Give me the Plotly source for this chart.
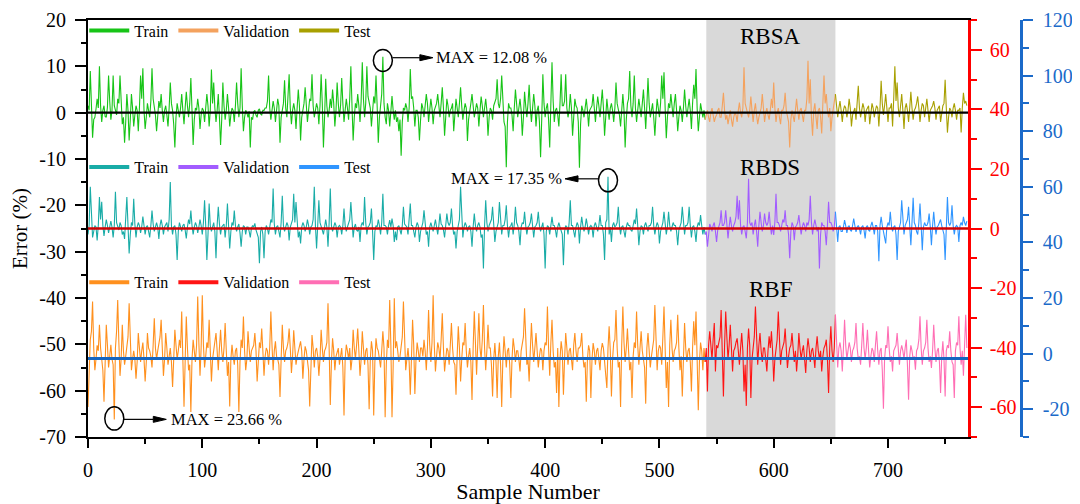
import plotly.graph_objects as go

# ---------------- data (one value per sample) ----------------
train_end = 540     # last training sample
val_end = 654       # last validation sample
x_max = 770

# RBSA error (%), left axis
rbsa_error = [
    1.5, 0.5, 9.0, 2.0, -5.4, -1.5, -1.0, 0.8, 3.0, 1.0, 10.0, 1.5, -2.0, 0.5, 1.5, -0.8, -1.0, 1.2, 8.0, 2.5,
    -1.5, 0.5, 8.0, 1.5, 0.5, -0.5, 3.0, 2.0, 8.0, 1.0, -2.5, -1.0, -6.5, -2.0, 4.0, 0.5, -6.0, -1.5, 4.0, 1.0,
    -3.0, -0.5, 1.5, 0.5, -4.0, 1.0, 8.0, 3.0, 9.6, 0.5, -3.5, -1.0, 2.0, 0.5, -1.0, 2.5, 9.6, 3.0, 1.0, -0.5,
    -4.0, -1.0, 2.5, 1.0, 4.0, 0.5, -2.0, 0.5, 1.5, -0.5, -3.0, 1.0, 6.5, 2.0, 0.5, -2.5, -7.5, -1.0, 2.0, 0.5,
    -1.0, 1.0, 4.0, 0.5, -2.5, 1.0, 4.5, 1.5, -1.0, 2.0, 7.5, 0.5, -7.0, -1.5, 1.0, 0.5, 3.0, 1.0, -3.5, -0.5,
    1.0, 0.5, -2.0, 1.0, 4.0, 1.5, -3.0, 0.5, 9.3, 2.0, 6.5, 1.0, -2.0, 0.5, 4.0, -1.0, -7.0, -1.5, 6.5, 1.5,
    -1.5, 0.5, 4.0, 1.0, -3.0, -0.5, 1.0, 0.5, -2.0, 1.5, 6.5, 2.0, -1.0, 1.0, 9.6, 1.5, -4.0, -1.0, 0.5, 0.0,
    -1.0, 0.3, -7.5, -1.0, -1.5, 0.2, 0.5, -0.5, -1.0, 0.5, 0.8, -0.3, -0.5, 0.5, 0.5, 1.0, 1.0, 2.5, 8.0, 1.0,
    -1.5, 0.5, 2.5, 1.0, -2.0, 0.5, 3.0, 1.5, -6.5, -1.0, 1.0, 2.0, 7.0, 1.0, -1.0, 2.5, 8.3, 1.0, -2.5, 0.5,
    2.0, 0.5, -3.5, 1.0, 5.0, 1.5, -6.0, -1.0, 1.0, 2.0, 5.5, 1.0, -2.0, 0.5, 3.0, 2.5, 8.3, 1.5, -1.0, 0.5,
    2.0, 1.0, -2.5, 1.5, 8.3, 2.0, -7.5, -1.0, 7.3, 1.5, -1.0, 0.5, 3.0, 1.0, 5.0, 2.0, -3.0, 0.5, 6.5, 2.0,
    -1.0, 1.5, 7.5, 2.0, -2.0, 0.5, 3.0, 1.0, -1.5, 3.0, 10.0, 1.5, -6.0, -1.0, 2.0, 1.0, 4.0, 1.5, -2.0, 2.5,
    10.9, 3.0, -1.0, 2.0, 10.0, 3.5, 2.0, 1.0, -3.0, 0.5, 3.5, 2.0, 8.0, 1.5, -6.5, -1.0, 1.0, 4.0, 12.08, 2.0,
    -1.0, -2.5, 2.0, 0.5, -3.0, 1.0, 3.6, 0.5, -1.5, 0.5, -2.0, -1.0, -4.0, -1.5, -9.3, -2.0, 1.0, 0.5, 2.0, 1.0,
    -2.0, 1.0, 9.4, 3.0, 3.5, 1.0, -3.0, 0.5, 0.5, -1.0, -6.0, -1.5, 2.0, 1.0, -1.0, 1.5, 4.0, 2.0, -2.0, 0.5,
    3.0, 1.0, -2.5, 0.5, 1.5, 2.0, 4.0, 1.5, -1.0, 2.0, 5.5, 1.0, -5.0, -1.0, 3.0, 1.5, -1.0, 0.5, 1.0, 2.0,
    -4.0, -0.5, 3.0, 1.0, -1.0, 2.0, 5.5, 1.5, -1.5, 0.5, 2.0, 1.0, -6.1, -1.5, 1.0, 2.0, 4.0, 1.0, -1.0, 0.5,
    2.0, 1.0, -3.0, 0.5, 3.5, 1.5, -1.0, 1.0, 3.0, 0.5, -5.0, -1.0, 1.0, 0.5, -1.5, 1.5, 2.5, 3.0, 7.2, 2.0,
    1.0, 3.0, 8.0, 1.5, -2.0, -3.0, -11.8, -2.0, 2.0, 1.0, 1.0, -0.5, -4.0, 1.0, 5.0, 2.0, -1.0, 1.0, 3.0, 0.5,
    -5.0, -1.0, 4.5, 1.5, -1.0, 2.0, 6.0, 1.0, -2.0, 1.0, 4.0, 1.5, -3.0, 0.5, 1.5, -2.0, -9.6, -1.5, 8.3, 2.0,
    -1.0, 1.0, 2.0, -1.5, -7.5, 2.0, 10.9, 2.5, -2.0, 0.5, 1.0, -0.5, -3.0, 2.0, 8.3, 1.5, 1.5, 2.5, 8.3, 1.0,
    -1.0, 0.5, 4.0, 1.0, -5.0, -1.0, 3.0, 1.5, 1.0, -2.0, -11.9, -2.5, 1.5, 0.5, -1.0, 1.0, 3.0, 0.5, -3.0, 0.5,
    1.0, 1.5, 4.0, 0.5, -2.0, 1.0, 3.5, 1.5, -1.0, 2.0, 5.0, 1.0, -5.0, -1.0, 3.0, 0.5, -1.5, 1.0, 2.0, 0.5,
    -2.0, 1.0, 6.5, 2.0, 1.0, -0.5, -3.0, 1.0, 4.0, 0.5, -7.5, -1.5, 2.0, 3.0, 9.0, 1.5, -1.0, 2.0, 8.0, 1.0,
    -2.0, 0.5, 3.0, 1.0, -1.0, 2.0, 5.0, 1.0, -3.5, 1.5, 7.5, 2.0, -1.0, 0.5, 2.0, -1.0, -5.0, -0.5, 3.0, 1.0,
    -1.0, 2.0, 8.0, 3.0, 8.7, 1.0, -5.5, -1.0, 2.0, 1.0, 4.0, 1.5, -1.0, 2.0, 4.0, 0.5, -4.0, -1.0, 1.5, 0.5,
    -2.0, 1.0, 5.0, 1.5, -1.0, 1.0, 3.0, 0.5, -3.5, 2.0, 6.0, 3.0, 9.4, 1.0, -4.0, -1.0, 2.0, 0.5, -1.0, 0.5,
    -1.5, -0.5, 0.5, -1.0, -2.0, 0.0, 1.0, -0.5, -2.0, -1.0, -0.5, 0.5, 1.0, -1.0, -1.0, 1.5, 4.3, 0.5, -1.5, -0.5,
    -2.5, -1.0, 0.5, -1.5, -3.0, -1.0, 0.0, -0.5, -2.0, 0.5, 2.2, 0.0, -1.0, 1.0, 9.8, 2.0, 1.0, -0.5, -1.0, 0.5,
    3.5, 0.5, -2.0, 0.5, 2.0, -0.5, -2.5, -1.0, 0.5, 1.0, 4.0, 0.5, -2.0, 0.0, 1.0, -0.5, -1.5, 0.5, 3.0, 1.0,
    6.5, 1.0, -2.0, 0.0, 1.0, -1.0, -2.5, 0.5, 0.5, 1.5, 4.3, 0.5, -1.0, -2.0, -7.5, -1.5, 0.5, -0.5, -2.0, 0.5,
    3.0, 0.5, -1.5, 0.5, 1.0, -0.5, -2.0, 0.5, 0.5, 3.0, 11.2, 2.0, 7.2, -1.0, -5.0, 0.5, 2.0, -1.0, -3.5, 0.5,
    1.0, -1.0, -4.5, 2.0, 8.0, 2.0, 4.0, 0.5, -1.0, 1.0, -4.0, -1.0, 1.0, 2.0, 4.0, 0.5, -1.0, 1.0, 2.5, 0.5,
    -2.0, 0.5, 1.5, 1.0, -1.0, 0.5, 3.0, 1.0, -3.0, -0.5, 0.5, 1.0, -1.5, 1.5, 5.8, 1.0, -1.0, 0.5, 2.0, 1.0,
    -2.0, 0.5, 1.0, 1.5, -2.5, 0.0, 2.0, 1.0, -1.0, 0.5, 1.5, 1.0, -3.0, 1.0, 6.9, 2.0, -0.5, 1.5, 4.0, 1.0,
    -2.0, 1.0, 1.0, 2.0, -3.0, 3.0, 10.0, 2.5, 6.5, 1.0, -1.0, 1.5, 4.0, 0.5, -3.5, 1.0, 2.0, 0.5, -2.0, 1.0,
    4.5, 1.0, -1.5, 0.5, 1.0, 2.0, 3.5, 1.0, -2.0, 0.5, 2.0, 1.5, -1.0, 1.0, 3.0, 0.5, -2.0, 0.5, 1.0, 1.5,
    2.5, 1.0, -1.5, 0.5, 1.0, 1.5, -2.0, 0.5, 1.5, 2.0, 7.1, 1.0, -4.3, -1.0, 1.0, 0.5, -1.0, 1.0, 2.0, 0.5,
    -1.5, 0.5, 0.5, 1.0, -4.3, 1.0, 4.3, 2.0, 2.5, 1.5,
]

# RBDS error (%), red right axis
rbds_error = [
    -2.0, 1.0, 14.0, 2.0, -3.0, -1.0, 1.0, 0.5, -4.0, 1.0, 10.6, 3.0, 9.0, 1.0, -2.5, 0.5, 3.0, 1.0, -1.5, 0.5,
    2.5, 0.5, -3.0, 1.0, 12.3, 2.0, 1.0, -0.5, 2.0, 1.0, -2.0, -1.0, -3.5, 2.0, 10.6, 1.0, -8.4, -2.0, 2.0, 1.0,
    10.0, 1.5, -3.0, 0.5, 2.0, 1.0, -1.5, 0.5, 4.0, 1.0, -2.0, 0.5, 1.0, -1.0, -3.0, 1.0, 6.0, 1.5, -1.0, 0.5,
    2.0, 0.5, -3.5, 1.0, 3.0, 1.0, -2.0, 0.5, 1.5, 2.0, -1.0, 3.0, 15.6, 1.0, -2.0, 0.5, 1.0, -2.0, -10.6, -1.0,
    2.0, 0.5, -1.0, 1.0, 1.5, -0.5, -3.3, 0.5, 3.0, 1.5, 6.0, 1.0, -2.0, 0.5, 2.0, 1.0, -1.5, 0.5, 3.0, 1.0,
    -2.0, 2.0, 9.5, 1.0, -10.6, -2.0, 8.4, 1.0, -1.0, 0.5, 2.0, -1.0, -10.0, 1.0, 7.3, 1.5, -2.0, 0.5, 1.0, 1.5,
    -3.0, 1.0, 8.4, 1.5, -6.7, -1.0, 2.0, 1.0, 6.0, 1.0, -1.0, 0.5, 1.5, -1.5, -6.1, -1.0, 1.0, 0.5, -2.0, 0.5,
    0.5, -1.0, -3.0, 0.0, 1.0, 0.5, 1.7, -0.5, -2.0, -3.0, -11.7, -1.0, 0.5, -2.0, -10.0, -1.0, 1.0, 0.0, -2.0, 1.0,
    3.0, 2.0, 13.4, 1.5, -2.0, 0.5, 1.0, -1.0, -3.0, 2.0, 11.0, 1.0, -1.0, 0.5, 2.0, 1.0, -4.0, 0.5, 2.0, 3.0,
    11.7, 2.0, 8.9, 1.0, -3.0, -1.0, -5.0, 0.5, 2.0, 1.0, -1.0, 0.5, 3.0, 1.0, -2.0, 0.5, 1.0, 3.0, 14.0, 1.0,
    -6.7, 1.0, 9.5, 2.0, 1.0, -0.5, -2.0, 1.0, 3.0, 0.5, -6.1, 2.0, 13.4, 1.0, -1.0, 0.5, 2.0, 1.0, -3.0, 0.5,
    1.0, 0.5, -2.0, 1.0, 6.7, 1.0, -1.0, 0.5, 2.0, 3.0, 8.9, 1.0, -3.0, 0.5, 1.5, -0.5, -1.0, 0.5, -4.5, 1.0,
    2.0, 1.0, 10.6, 2.0, -2.0, 0.5, 1.0, 2.0, 6.7, -1.0, -10.6, -1.0, 1.0, 0.5, 3.0, 1.0, -2.0, 2.0, 11.7, 1.0,
    1.0, 0.5, -2.0, 1.0, 2.8, 0.5, 3.3, 1.0, -4.5, -1.0, -3.9, 0.5, 1.0, -0.5, -2.0, 1.0, 7.3, 1.5, 1.0, 0.5,
    -2.0, 2.0, 8.4, 1.0, 1.0, -1.0, -3.0, 0.5, 2.0, 1.0, -4.5, -1.0, 1.0, 2.0, 6.1, 0.5, -2.0, -1.0, -6.1, 0.5,
    2.0, 0.5, -1.0, 1.0, 3.0, 0.5, -2.0, 1.0, 5.0, 1.5, 1.0, -0.5, -3.0, 1.0, 5.0, 2.0, 1.0, 2.0, 6.7, 1.0,
    -2.0, -1.0, -6.7, -1.0, 1.0, 3.0, 14.0, 2.0, -3.0, 0.5, 2.0, 1.0, -1.0, 0.5, 1.0, -1.0, -6.1, 0.5, 5.0, 1.0,
    -1.0, 1.0, 2.0, 0.5, -3.0, -2.0, -13.4, 1.0, 9.5, 2.0, -1.0, 1.0, 2.0, 3.0, 7.3, 1.0, -4.5, -1.0, 1.0, 2.0,
    8.9, 2.0, -2.0, 1.0, 1.0, 3.0, 7.8, 1.0, -3.0, 0.5, 1.0, 2.0, -2.0, 1.5, 7.3, 2.0, 1.0, -1.0, -5.6, 0.5,
    2.0, 1.5, 5.6, 1.0, -2.0, 0.5, 1.0, 2.0, 5.0, 1.0, -3.0, 0.5, 1.0, 2.0, 5.6, 1.0, -1.0, 0.5, 2.0, -2.0,
    -13.4, -1.0, 1.0, 0.5, -2.0, 1.0, 3.9, 1.0, 1.0, -0.5, -3.0, 0.5, 2.0, 0.5, -1.0, -2.0, -12.3, -1.0, 1.0, 0.5,
    -2.0, 2.0, 9.5, 1.0, 1.0, -0.5, -3.0, 0.5, 2.0, 1.0, -5.0, 0.5, 3.9, 1.0, -1.0, 0.5, 3.3, 1.0, -2.0, 0.5,
    1.0, 0.5, -3.0, 1.0, 2.0, 0.5, -1.0, 1.0, 4.5, 1.0, 1.0, -2.0, -10.6, 2.0, 3.0, 17.35, -2.0, 0.5, -4.5, 1.0,
    2.0, 0.5, 1.0, 2.0, 7.3, 1.0, -2.0, 0.5, 1.0, -1.0, -3.0, 0.5, 2.0, 1.0, 1.0, -0.5, -1.0, 1.0, 3.0, 1.5,
    6.7, 1.0, -5.6, -1.0, 1.0, 0.5, -2.0, 1.0, 2.0, 0.5, -1.0, 1.0, 1.0, 2.0, 7.3, 1.0, -2.0, 0.5, 2.0, 1.0,
    -5.0, -1.0, 1.0, 2.0, 5.6, 1.0, -2.0, 0.5, 5.6, 1.0, -1.0, 0.5, 2.0, 1.0, 1.0, -1.0, -5.6, -0.5, 1.0, 2.0,
    7.3, 1.0, -2.0, 1.0, 1.0, 2.0, 7.3, 1.0, -3.0, 0.5, 1.0, -1.0, -4.5, 0.5, 2.0, 1.0, 4.5, 1.0, -2.0, 0.5,
    -2.0, -1.0, -6.1, -1.0, 1.5, 0.5, -1.0, 1.0, 2.0, -1.0, -4.5, -0.5, 1.0, 2.0, 6.1, 1.0, 1.0, 2.0, 6.1, 1.0,
    -3.3, 0.5, 3.9, 1.0, -1.0, 1.0, 2.0, 4.0, 11.0, 3.0, 9.5, 1.0, -2.0, 0.5, 1.0, -1.0, -3.3, 2.0, 16.7, 2.0,
    1.0, 2.0, -2.0, 1.0, 3.0, -1.0, -6.1, 1.0, 5.6, 2.0, -1.0, 1.0, 5.0, 2.0, 1.0, 2.0, 5.6, 1.0, -2.0, 1.0,
    -2.2, 2.0, 11.7, 2.0, 2.0, 1.0, -1.0, 1.0, 3.0, 2.0, 6.1, 1.0, 1.0, -2.0, -10.0, -1.0, 2.0, 1.0, -3.9, 0.5,
    1.0, 2.0, 4.5, 1.0, -2.0, 0.5, 2.0, 1.0, -1.0, 2.0, 1.0, 3.0, 11.0, 2.0, -2.0, 1.0, 3.0, 1.0, -1.0, 0.5,
    -13.4, -2.0, 2.0, 1.0, 1.0, -1.0, -5.6, 1.0, 9.0, 2.0, 2.0, 1.0, -1.0, 0.5, 5.6, 1.0, -4.5, 0.5, 1.0, -1.0,
    -1.0, 0.5, 2.8, 1.0, -1.5, 0.5, 1.0, -0.5, -1.0, 1.0, 3.3, 1.0, -1.1, 0.5, 1.0, 0.0, -2.0, 0.5, 1.0, -0.5,
    -3.3, 0.5, 1.0, -0.5, -1.0, 1.0, 2.2, 0.5, -2.0, 1.0, 1.0, -1.0, -11.0, 1.0, 3.9, 1.0, -1.0, -2.0, -5.0, 0.5,
    2.0, 1.0, 5.6, 1.0, -1.0, 0.5, 1.0, -2.0, -10.6, -1.0, 1.0, 2.0, 9.5, 1.0, -2.0, 1.0, 2.0, 3.0, 7.3, 1.0,
    -5.6, 2.0, 10.3, 2.0, 1.0, -1.0, -2.0, 2.0, 8.4, 1.0, -7.3, 0.5, 2.0, 1.0, 1.0, 2.0, 5.0, 0.5, -5.6, 1.0,
    5.6, 1.0, -2.0, 0.5, 1.0, 2.0, 3.0, 1.0, -1.0, -2.0, -10.6, 1.0, 10.6, 2.0, 1.0, 2.0, 7.8, 1.0, -2.0, 0.5,
    1.0, 0.5, -4.5, 1.0, 2.0, 1.0, 3.9, 2.0, 1.0, 2.5,
]

# RBF error (%), blue right axis
rbf_error = [
    -19.2, -4.0, 5.0, 8.0, 18.7, 2.0, -6.0, -2.0, 3.0, 1.0, 10.4, 2.0, -3.0, -6.0, -17.3, -2.0, 10.4, 3.0, -5.0, -1.0,
    3.2, -2.0, -4.0, -23.66, 2.0, 8.0, 19.3, 4.0, -8.0, -2.0, 10.4, 1.0, -4.0, -1.0, 2.0, 6.0, 18.1, 2.0, -6.0, -2.0,
    1.0, -2.0, -9.0, -3.0, 7.4, 2.0, -3.0, 1.0, 4.0, -2.0, -10.0, -3.0, 7.4, 2.0, 1.0, -1.0, -5.0, 3.0, 12.7, 2.0,
    -2.0, 1.0, 4.0, 6.0, 12.2, 1.0, -8.0, -2.0, 7.4, 2.0, -4.0, -1.0, 2.0, -3.0, -12.0, -2.0, 8.6, 3.0, -2.0, 1.0,
    5.0, 2.0, 15.1, -2.0, -19.1, -3.0, 13.3, 2.0, -6.0, -4.0, -21.0, -2.0, 5.0, 1.0, -3.0, 3.0, 20.5, 4.0, -8.0, 2.0,
    21.0, 3.0, -5.0, -1.0, 4.0, 2.0, 12.2, 1.0, -10.0, -2.0, 2.0, 4.0, 7.4, 1.0, -6.0, 2.0, 8.6, 1.0, -3.0, 2.0,
    11.0, 1.0, -8.0, -3.0, -19.0, -2.0, 3.2, -1.0, -4.0, 1.0, 2.0, -4.0, -21.0, -3.0, 5.0, 2.0, 13.3, 1.0, -6.0, -2.0,
    8.0, 2.0, -3.0, 1.0, 2.0, 3.0, 7.4, 1.0, -10.0, -2.0, 4.0, 2.0, 9.0, 1.0, -8.0, -1.0, 2.0, 1.0, -4.0, 2.0,
    15.1, 3.0, -6.0, 1.0, 4.4, -1.0, -2.0, -4.0, -15.6, -2.0, 10.4, 2.0, -3.0, 1.0, 2.0, 4.0, 9.0, 2.0, -7.0, -1.0,
    8.4, 2.0, -4.0, -1.0, 1.0, 2.0, 4.4, 1.0, -9.0, -2.0, 2.6, 1.0, -3.0, -6.0, -19.0, -2.0, 6.7, 2.0, -5.0, 1.0,
    2.0, -1.0, -8.0, -2.0, 8.6, 2.0, -3.0, 1.0, 2.0, 4.0, 18.1, 2.0, -18.5, -3.0, 5.5, 1.0, -6.0, -1.0, 1.0, 2.0,
    -4.0, -1.0, 2.0, -5.0, -22.3, -2.0, 3.2, 1.0, -2.0, 2.0, -6.0, -2.0, 8.6, 2.0, -2.0, 3.0, 9.0, 1.0, -8.0, -2.0,
    8.0, 2.0, -4.0, 1.0, 2.0, -4.0, -20.0, -2.0, 4.4, 1.0, -22.3, -3.0, 5.5, 2.0, 1.0, -2.0, -5.0, 1.0, 8.0, 2.0,
    -22.9, -4.0, 5.0, 2.0, 19.3, 3.0, -22.9, -5.0, 19.9, 2.0, 4.4, 1.0, -3.0, -1.0, 2.0, 6.0, 18.7, 2.0, -6.0, -2.0,
    2.0, -3.0, -14.8, -2.0, 12.2, 3.0, -14.5, -2.0, 4.0, 1.0, -3.0, 2.0, 2.0, -1.0, 5.0, 1.0, -6.0, 2.0, 15.7, 3.0,
    -3.0, 4.0, 21.0, 3.0, -6.4, -1.0, 4.0, 2.0, -2.0, 5.0, 14.5, 2.0, -6.4, -2.0, 2.0, 1.0, -4.0, 3.0, 11.0, 2.0,
    -3.0, -4.0, -14.8, -1.0, 9.8, 2.0, -10.0, -2.0, 4.0, 3.0, 11.0, 1.0, -5.0, -1.0, 2.0, -3.0, -16.7, 2.0, 15.2, 4.0,
    -7.6, 3.0, 14.5, 2.0, -2.0, 5.0, 17.5, 2.0, -6.0, 1.0, 10.4, 2.0, 2.0, -4.0, -15.4, -2.0, 3.8, -3.0, -16.0, -1.0,
    4.0, -4.0, -19.2, -2.0, 6.2, 1.0, -5.0, 1.0, 2.0, -4.0, -16.0, -2.0, 5.5, 2.0, -3.0, 1.0, 1.0, -2.0, -6.4, 1.0,
    3.0, 6.0, 16.3, 2.0, -4.0, -2.0, -10.0, 1.0, 11.0, 3.0, -3.0, 2.0, 7.4, 1.0, -5.0, -1.0, 2.0, 1.0, -6.0, 1.0,
    4.0, 3.0, 16.9, 2.0, -8.0, 4.0, 12.2, 1.0, -5.0, -3.0, -14.2, 2.0, -19.2, -2.0, 4.4, 1.0, -14.8, -2.0, 7.4, 2.0,
    -4.0, 1.0, 2.0, -2.0, -6.0, 3.0, 7.4, 1.0, -3.0, 2.0, 2.0, 3.0, 7.4, -1.0, -5.0, -3.0, -17.3, -2.0, 3.0, 1.0,
    -16.0, -2.0, 3.8, 1.0, -4.0, 1.0, 2.0, -2.0, -6.0, 1.0, 3.8, 2.0, -3.0, -5.0, -12.4, 2.0, 9.8, 1.0, -15.4, -2.0,
    4.0, 5.0, 15.7, 2.0, -5.0, -3.0, -19.2, 3.0, 16.9, 4.0, -3.0, 2.0, 9.0, 1.0, -6.0, -3.0, -16.0, -1.0, 4.0, 2.0,
    15.1, 3.0, -4.0, 2.0, 8.0, 1.0, -3.0, -5.0, -18.0, 2.0, 7.4, 1.0, -5.0, -1.0, 2.0, 5.0, 17.5, 2.0, -6.0, 1.0,
    3.0, 2.0, -4.0, 6.0, 16.9, 2.0, -12.4, -3.0, -19.2, 3.0, 12.2, 2.0, -3.0, 1.0, 2.0, 4.0, 14.0, 2.0, -6.0, -1.0,
    -15.4, -2.0, 11.0, 2.0, -3.0, 1.0, 2.0, -3.0, -13.6, 2.0, 11.6, 3.0, 15.1, -2.0, -20.4, -3.0, 4.0, 1.0, -6.0, 2.0,
    -3.0, 2.0, -13.6, 3.0, 8.0, 2.0, -2.0, 5.0, 11.0, -6.4, 3.0, 2.0, 4.0, 6.0, 15.7, 2.0, -15.4, 3.0, 15.1, 6.0,
    -2.0, 3.0, 10.4, 2.0, -6.4, 1.0, 2.0, 4.0, 5.5, 1.0, -4.0, 2.0, 7.4, 1.0, -13.6, -4.0, -18.8, 2.0, 9.0, 3.0,
    -16.0, -2.0, 3.0, 6.0, 16.9, 2.0, -4.0, 3.0, 7.4, 1.0, -3.0, 2.0, 2.0, -2.0, -6.4, 1.0, 6.2, 2.0, 8.0, 1.0,
    -10.0, -2.0, 2.0, 5.0, 15.1, 2.0, -4.0, 1.0, 3.0, 4.0, 9.0, 1.0, -5.2, -1.0, 2.0, 3.0, 7.4, 2.0, -3.0, 1.0,
    -6.4, -1.0, 7.4, 2.0, -2.0, 1.0, 3.0, -2.0, -7.0, 1.0, 5.5, 2.0, -3.0, 1.0, 2.0, -1.0, -5.2, 2.0, 6.2, 1.0,
    -2.0, 1.0, -6.4, -1.0, 2.0, 3.0, 5.0, -2.0, -14.2, 2.0, 9.8, 1.0, -3.0, 2.0, 14.0, 3.0, -5.0, 2.0, 4.0, 1.0,
    -6.4, 2.0, 12.2, 3.0, -2.0, 1.0, 4.0, 2.0, -3.0, 1.0, 2.0, 4.0, 11.0, 2.0, -2.0, -1.0, -4.0, 3.0, 11.0, 2.0,
    -2.0, 2.0, 8.6, 1.0, -5.0, -1.0, 2.0, 1.0, -3.0, 3.0, 8.0, 1.0, -4.0, 1.0, 2.0, -6.0, -19.8, -2.0, 3.0, 2.0,
    9.8, 2.0, -3.0, -1.0, -6.4, 1.0, 2.0, 3.0, 7.4, 1.0, -4.0, 1.0, 3.0, 1.0, -2.0, 2.0, 5.0, -4.0, -16.6, -1.0,
    3.0, 1.0, -2.0, -1.0, -5.8, 1.0, 2.0, 5.0, 13.4, 2.0, -4.0, 1.0, 2.0, 4.0, 12.2, 2.0, -3.0, -1.0, -5.2, 1.0,
    10.4, 2.0, -3.0, 1.0, 2.0, -3.0, -14.2, -1.0, 4.4, -2.0, -15.4, 1.0, 3.0, 2.0, 8.0, 1.0, -3.0, -4.0, -16.0, 1.0,
    4.0, 3.0, 13.4, 2.0, -4.0, 1.0, -8.0, 3.0, 14.0, 2.0,
]

rbf_reference_line = -1.8   # level of the blue horizontal line (blue axis units)

model_names = ["RBSA", "RBDS", "RBF"]
split_names = ["Train", "Validation", "Test"]
model_colors = {
    "RBSA": ["#17c417", "#f4a25e", "#a8a000"],
    "RBDS": ["#19aca7", "#a25cff", "#2f95ff"],
    "RBF": ["#ff901e", "#ff1414", "#ff6eb4"],
}
left_ticks = [-70, -60, -50, -40, -30, -20, -10, 0, 10, 20]
red_ticks = [-60, -40, -20, 0, 20, 40, 60]
blue_ticks = [-20, 0, 20, 40, 60, 80, 100, 120]

# ---------------- figure ----------------
FONT = "Liberation Serif"
RED = "#ff0000"
BLUE = "#1b6ac9"

# the page body adds an 8 px margin, so the figure is 8 px smaller each way
W, H = 1072, 496
ML, MR, MT, MB = 80, 59, 12, 67
plot_w = W - ML - MR
x_domain_end = 880 / plot_w

fig = go.Figure()

axis_for = {"RBSA": "y", "RBDS": "y2", "RBF": "y3"}
legend_for = {"RBSA": "legend", "RBDS": "legend2", "RBF": "legend3"}
series_for = {"RBSA": rbsa_error, "RBDS": rbds_error, "RBF": rbf_error}


def split_series(vals):
    xs = list(range(len(vals)))
    tr = [(x, v) for x, v in zip(xs, vals) if x <= train_end]
    va = [(x, v) for x, v in zip(xs, vals) if train_end <= x <= val_end]
    te = [(x, v) for x, v in zip(xs, vals) if x >= val_end]
    return [tr, va, te]


for m in model_names:
    parts = split_series(series_for[m])
    for k, part in enumerate(parts):
        fig.add_trace(go.Scatter(
            x=[p[0] for p in part], y=[p[1] for p in part],
            mode="lines", line=dict(color=model_colors[m][k], width=1.1),
            yaxis=axis_for[m], showlegend=False, hoverinfo="skip"))

# reference lines (drawn above the data)
fig.add_trace(go.Scatter(x=[0, x_max], y=[0, 0], mode="lines",
                         line=dict(color="black", width=2.2), yaxis="y",
                         showlegend=False, hoverinfo="skip"))
fig.add_trace(go.Scatter(x=[0, x_max], y=[0, 0], mode="lines",
                         line=dict(color="#d00000", width=2.5), yaxis="y2",
                         showlegend=False, hoverinfo="skip"))
fig.add_trace(go.Scatter(x=[0, x_max], y=[rbf_reference_line] * 2, mode="lines",
                         line=dict(color="#1565c0", width=3), yaxis="y3",
                         showlegend=False, hoverinfo="skip"))

# legend entries (thick lines like the reference)
for m in model_names:
    for k, nm in enumerate(split_names):
        fig.add_trace(go.Scatter(
            x=[None], y=[None], mode="lines", name=nm,
            line=dict(color=model_colors[m][k], width=4),
            yaxis=axis_for[m], legend=legend_for[m], showlegend=True))

# validation band
fig.add_shape(type="rect", xref="x", yref="paper", x0=train_end + 1, x1=val_end,
              y0=0, y1=1, fillcolor="#d9d9d9", line=dict(width=0), layer="below")

# model titles
title_y = {"RBSA": 0.9605, "RBDS": 0.647, "RBF": 0.354}
for m in model_names:
    fig.add_annotation(text=m, x=(train_end + val_end) / 2, xref="x", y=title_y[m],
                       yref="paper", showarrow=False, yanchor="middle", xanchor="center",
                       font=dict(family=FONT, size=23, color="black"))

# MAX markers: direction, arrow start / tip (px from the point), vertical px offset,
# text offset, circle pixel box (y0, y1)
max_spec = [
    ("RBSA", 1, 9.5, 50, -1, 51, (-14.7, 7.3)),
    ("RBDS", -1, 9.5, 43, -2, 44, (-15.0, 8.0)),
    ("RBF", 1, 9.0, 52, 0, 55, (-10.7, 12.5)),
]
HEAD_L, HEAD_W = 13, 3
for m, d, a0, tip, dy, tx, (cy0, cy1) in max_spec:
    vals = series_for[m]
    idx = max(range(len(vals)), key=lambda i: abs(vals[i]))
    v = vals[idx]
    fig.add_shape(type="circle", xref="x", yref=axis_for[m],
                  xsizemode="pixel", ysizemode="pixel",
                  xanchor=idx, yanchor=v, x0=-9.5, x1=9.5, y0=cy0, y1=cy1,
                  line=dict(color="black", width=1.5), layer="above")
    base = tip - HEAD_L
    line_path = f"M{d * a0},{dy} L{d * base},{dy}"
    head_path = (f"M{d * base},{dy + HEAD_W} L{d * tip},{dy} "
                 f"L{d * base},{dy - HEAD_W} Z")
    fig.add_shape(type="path", xref="x", yref=axis_for[m],
                  xsizemode="pixel", ysizemode="pixel", xanchor=idx, yanchor=v,
                  path=line_path, line=dict(color="black", width=1.2), layer="above")
    fig.add_shape(type="path", xref="x", yref=axis_for[m],
                  xsizemode="pixel", ysizemode="pixel", xanchor=idx, yanchor=v,
                  path=head_path, fillcolor="black", line=dict(color="black", width=1),
                  layer="above")
    fig.add_annotation(x=idx, y=v, xref="x", yref=axis_for[m],
                       text=f"MAX = {abs(v):.2f} %", showarrow=False,
                       xshift=d * tx, yshift=dy,
                       xanchor="left" if d > 0 else "right", yanchor="middle",
                       font=dict(family=FONT, size=16.5, color="black"))

legend_common = dict(orientation="h", xanchor="left", yanchor="middle",
                     bgcolor="rgba(0,0,0,0)", itemwidth=40,
                     font=dict(family=FONT, size=16, color="black"))


def fmt(t):
    return str(t).replace("\u2212", "-")


fig.update_layout(
    width=W, height=H,
    margin=dict(l=ML, r=MR, t=MT, b=MB, autoexpand=False),
    paper_bgcolor="white", plot_bgcolor="white",
    font=dict(family=FONT, color="black"),
    legend=dict(x=-0.004, y=0.9745, **legend_common),
    legend2=dict(x=-0.004, y=0.647, **legend_common),
    legend3=dict(x=-0.004, y=0.371, **legend_common),
    xaxis=dict(domain=[0, x_domain_end], range=[0, x_max], showgrid=False, zeroline=False,
               automargin=False,
               showline=True, linecolor="black", linewidth=2, mirror=True,
               ticks="outside", ticklen=9, tickwidth=2, tickcolor="black",
               dtick=100, tick0=0, ticklabelstandoff=5,
               minor=dict(ticks="outside", ticklen=5, tickwidth=2, dtick=50, tickcolor="black"),
               tickfont=dict(family=FONT, size=20, color="black"),
               title=dict(text="Sample Number", font=dict(family=FONT, size=22), standoff=4)),
    yaxis=dict(range=[-70, 20], showgrid=False, zeroline=False, automargin=False,
               showline=True, linecolor="black", linewidth=2,
               ticks="outside", ticklen=11, tickwidth=2, tickcolor="black",
               tickvals=left_ticks, ticktext=[fmt(t) for t in left_ticks],
               ticklabelstandoff=5, ticklabeloverflow="allow",
               minor=dict(ticks="outside", ticklen=5, tickwidth=2, dtick=5, tickcolor="black"),
               tickfont=dict(family=FONT, size=20, color="black"),
               title=dict(text="Error (%)", font=dict(family=FONT, size=21), standoff=8)),
    yaxis2=dict(range=[-70, 70], overlaying="y", side="right", anchor="x", automargin=False,
                showgrid=False, zeroline=False, showline=True, linecolor=RED, linewidth=2.5,
                ticks="outside", ticklen=11, tickwidth=2, tickcolor=RED,
                tickvals=red_ticks, ticktext=[fmt(t) for t in red_ticks],
                ticklabelstandoff=4, ticklabeloverflow="allow",
                minor=dict(ticks="outside", ticklen=6, tickwidth=2, tickcolor=RED,
                           tickvals=[-70, -50, -30, -10, 10, 30, 50, 70]),
                tickfont=dict(family=FONT, size=20, color=RED)),
    yaxis3=dict(range=[-30, 120], overlaying="y", side="right", anchor="free", position=1.0,
                automargin=False,
                showgrid=False, zeroline=False, showline=True, linecolor=BLUE, linewidth=2.5,
                ticks="outside", ticklen=10, tickwidth=2, tickcolor=BLUE,
                tickvals=blue_ticks, ticktext=[fmt(t) for t in blue_ticks],
                ticklabelstandoff=6, ticklabeloverflow="allow",
                minor=dict(ticks="outside", ticklen=6, tickwidth=2, tickcolor=BLUE,
                           tickvals=[-30, -10, 10, 30, 50, 70, 90, 110]),
                tickfont=dict(family=FONT, size=20, color=BLUE)),
)

fig.write_html("out.html")
